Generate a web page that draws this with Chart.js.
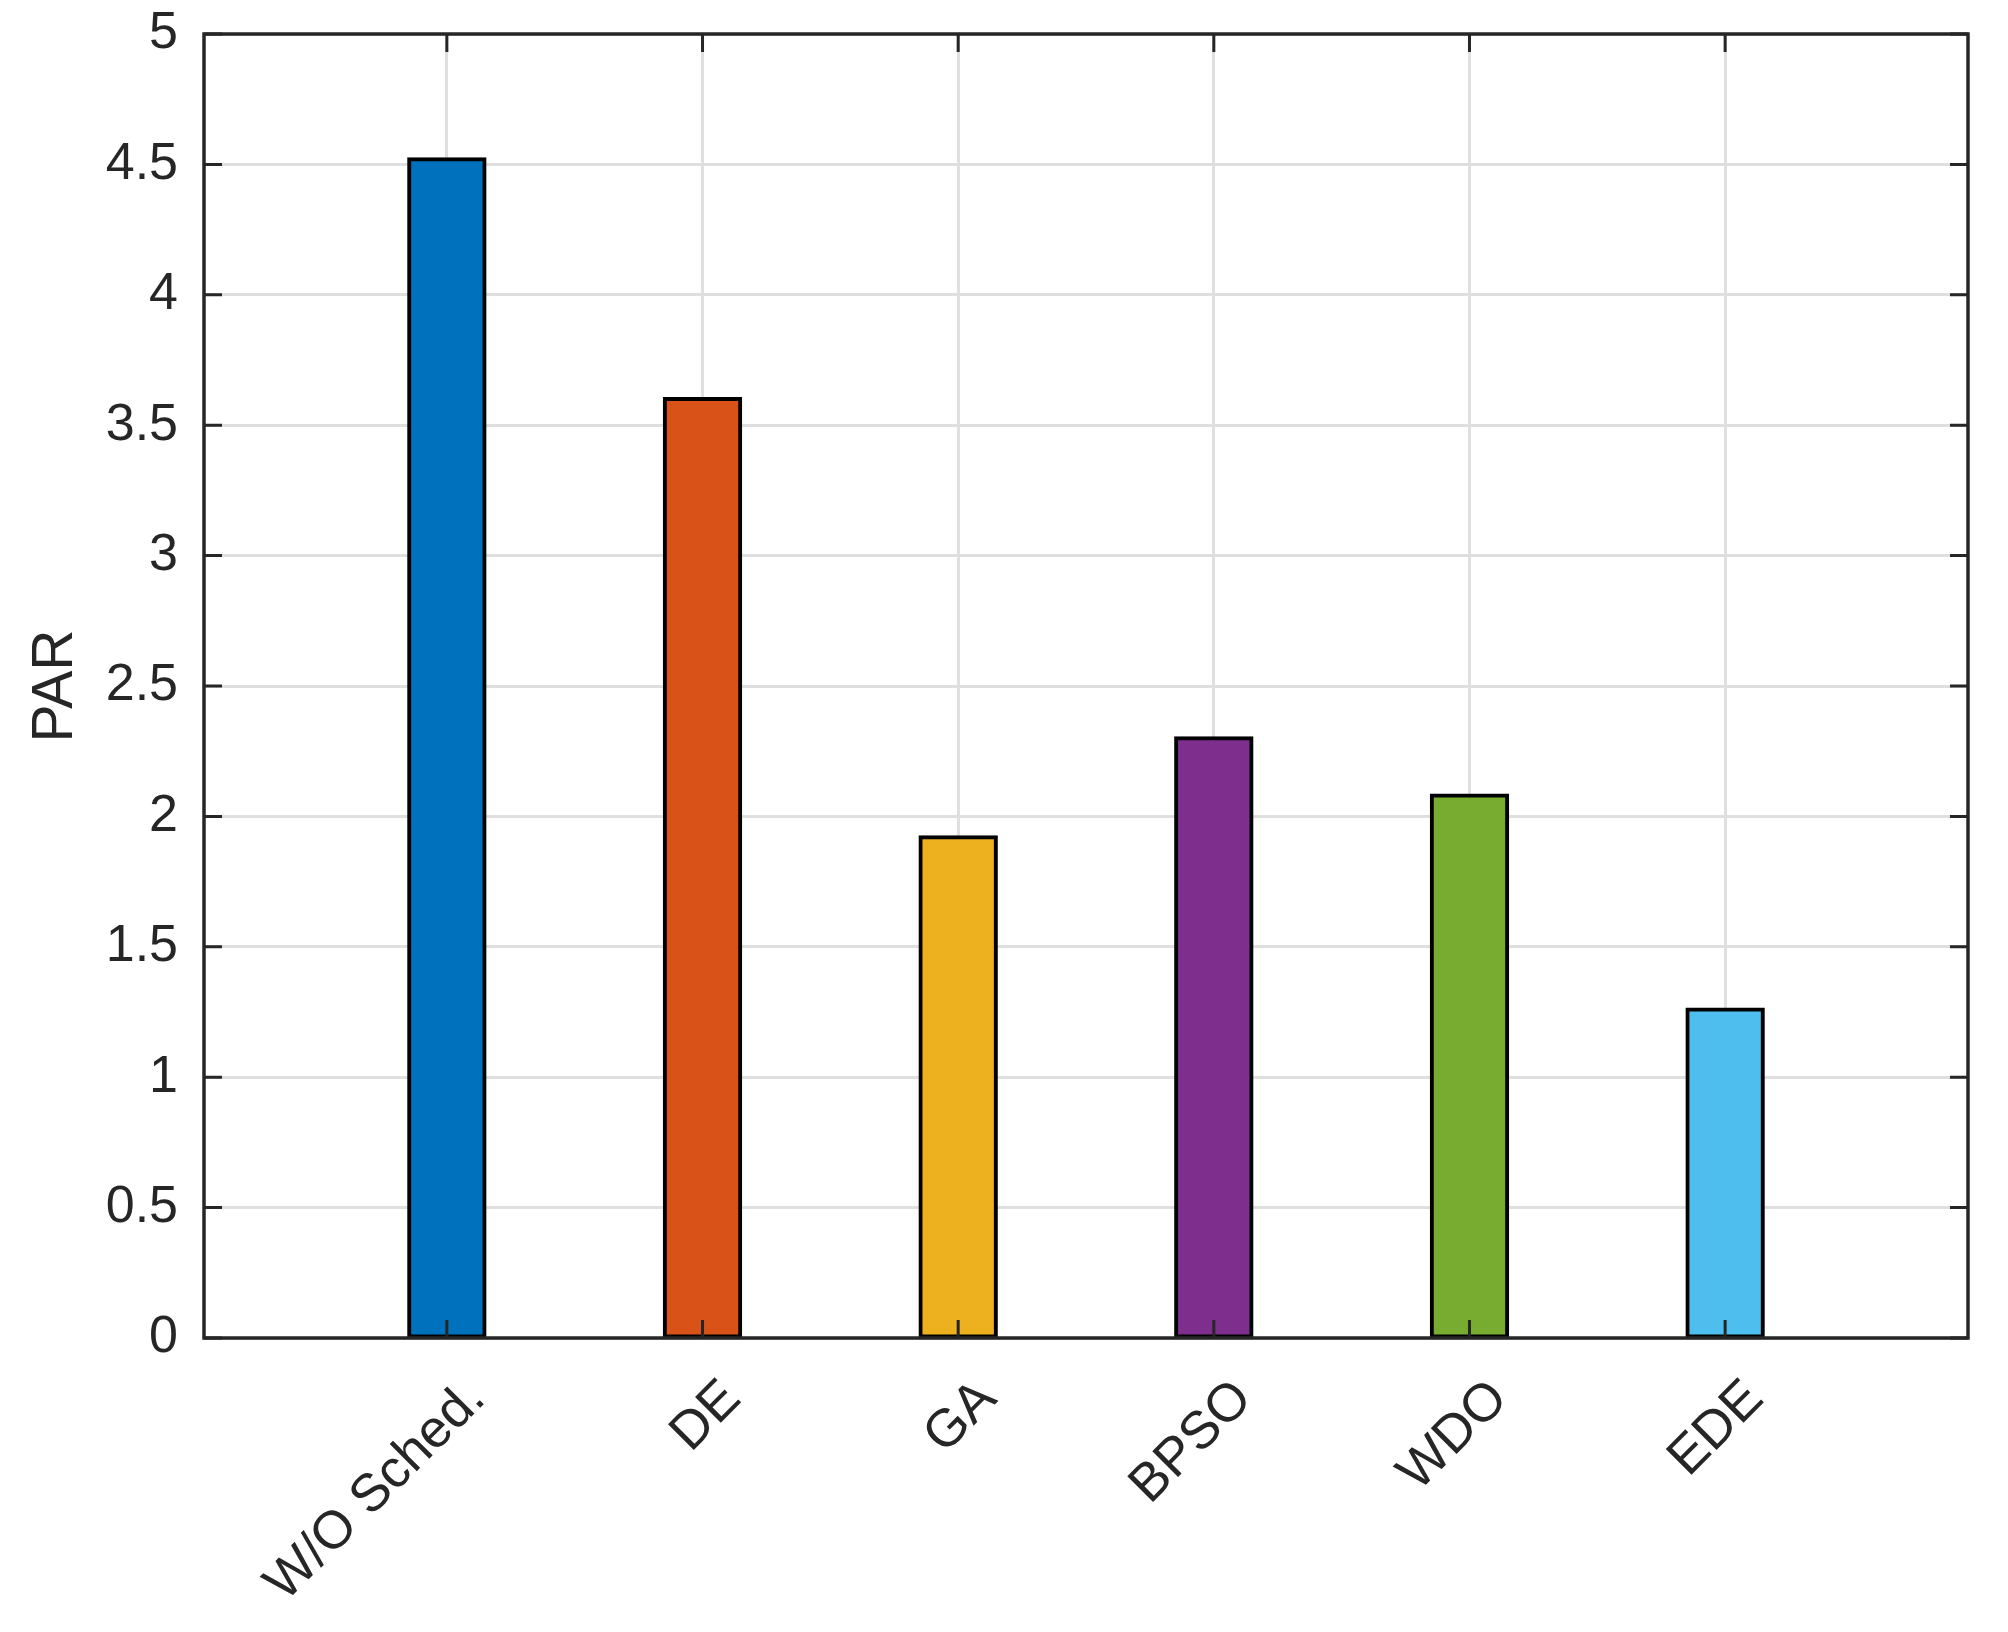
<!DOCTYPE html>
<html>
<head>
<meta charset="utf-8">
<script src="https://cdn.jsdelivr.net/npm/chart.js@4.4.1/dist/chart.umd.min.js"></script>
<style>
    html, body { margin: 0; padding: 0; background: #ffffff; }
    #wrap { width: 2008px; height: 1632px; }
</style>
</head>
<body>
<div id="wrap"><canvas id="parChart" width="2008" height="1632"></canvas></div>
<script>
// dati
const categories = ["W/O Sched.", "DE", "GA", "BPSO", "WDO", "EDE"];
const parValues = [4.52, 3.6, 1.92, 2.3, 2.08, 1.26];
const barColors = ["#0072BD", "#D95319", "#EDB120", "#7E2F8E", "#77AC30", "#4DBEEE"];
const yTicks = [0, 0.5, 1, 1.5, 2, 2.5, 3, 3.5, 4, 4.5, 5];

const axisColor = "#262626";
const fontName = "'Liberation Sans', Arial, Helvetica, sans-serif";

// assi interni stile matlab: tacche verso l'interno e riquadro
const boxPlugin = {
    id: "boxPlugin",
    afterDatasetsDraw(chart) {
        const ctx = chart.ctx;
        const area = chart.chartArea;
        const xs = chart.scales.x;
        const ys = chart.scales.y;
        const len = 18;
        ctx.save();
        ctx.strokeStyle = axisColor;
        ctx.lineWidth = 3;
        ctx.beginPath();
        ys.ticks.forEach((t) => {
            const py = ys.getPixelForValue(t.value);
            ctx.moveTo(area.left, py);
            ctx.lineTo(area.left + len, py);
            ctx.moveTo(area.right, py);
            ctx.lineTo(area.right - len, py);
        });
        xs.ticks.forEach((t) => {
            const px = xs.getPixelForValue(t.value);
            ctx.moveTo(px, area.bottom);
            ctx.lineTo(px, area.bottom - len);
            ctx.moveTo(px, area.top);
            ctx.lineTo(px, area.top + len);
        });
        ctx.stroke();
        ctx.lineWidth = 3.5;
        ctx.strokeRect(area.left, area.top, area.right - area.left, area.bottom - area.top);
        ctx.restore();
    },
};

document.addEventListener("DOMContentLoaded", function () {
    const ctx = document.getElementById("parChart").getContext("2d");

    const parChart = new Chart(ctx, {
        type: "bar",
        data: {
            datasets: [
                {
                    label: "PAR",
                    data: parValues.map((v, i) => ({ x: i + 1, y: v })),
                    backgroundColor: barColors,
                    borderColor: "#000000",
                    borderWidth: 4,
                    borderSkipped: false,
                    inflateAmount: 2, // bordo centrato sul bordo della barra
                    barPercentage: 0.295,
                    categoryPercentage: 1,
                },
            ],
        },
        options: {
            responsive: false,
            animation: false,
            layout: {
                padding: { top: 34, right: 40, left: 0, bottom: 0 },
            },
            plugins: {
                legend: { display: false },
                tooltip: { enabled: false },
            },
            scales: {
                x: {
                    type: "linear",
                    min: 0.05,
                    max: 6.95,
                    offset: false,
                    afterBuildTicks: (scale) => {
                        scale.ticks = categories.map((c, i) => ({ value: i + 1 }));
                    },
                    afterFit: (scale) => {
                        scale.height = 1632 - 1338;
                        scale.paddingLeft = 0;
                        scale.paddingRight = 0;
                    },
                    border: { display: false },
                    grid: {
                        color: "#dfdfdf",
                        lineWidth: 3,
                        drawTicks: false,
                        offset: false,
                    },
                    ticks: {
                        autoSkip: false,
                        minRotation: 45,
                        maxRotation: 45,
                        padding: 30,
                        labelOffset: 30,
                        color: axisColor,
                        font: { family: fontName, size: 53 },
                        callback: (value) => categories[value - 1],
                    },
                },
                y: {
                    min: 0,
                    max: 5,
                    afterBuildTicks: (scale) => {
                        scale.ticks = yTicks.map((v) => ({ value: v }));
                    },
                    afterFit: (scale) => {
                        scale.width = 204;
                        scale.paddingTop = 0;
                        scale.paddingBottom = 0;
                    },
                    border: { display: false },
                    grid: {
                        color: "#dfdfdf",
                        lineWidth: 3,
                        drawTicks: false,
                    },
                    ticks: {
                        padding: 26,
                        color: axisColor,
                        font: { family: fontName, size: 52 },
                        callback: (value) => String(value),
                    },
                    title: {
                        display: true,
                        text: "PAR",
                        color: axisColor,
                        font: { family: fontName, size: 57 },
                        padding: { top: 22, bottom: 0 },
                    },
                },
            },
        },
        plugins: [boxPlugin],
    });
});
</script>
</body>
</html>
